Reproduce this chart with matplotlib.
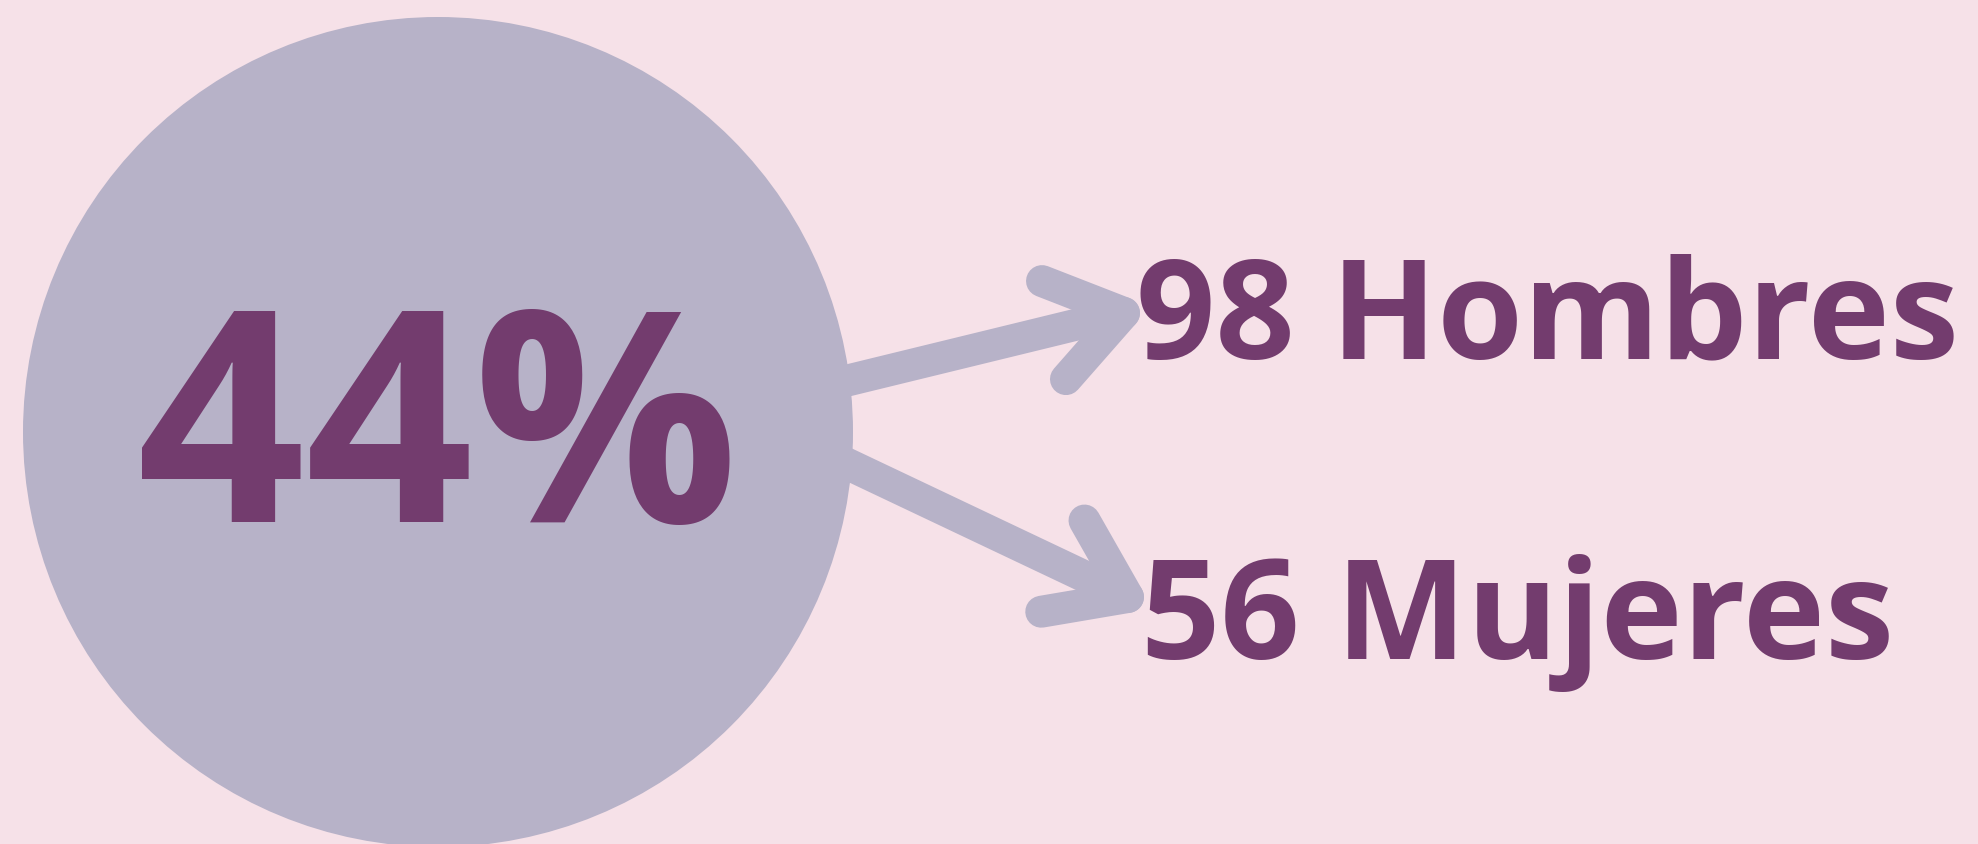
import numpy as np
import matplotlib
matplotlib.use("Agg")
import matplotlib.pyplot as plt
from matplotlib.patches import Circle

# ---- data ----
percent_value = 44
group_counts = [98, 56]
group_labels = ["Hombres", "Mujeres"]

# ---- style ----
BG = "#f6e1e8"
CIRCLE = "#b7b2c8"
TEXT = "#733c6e"
FONT = "Open Sans"

W, H = 1978, 844
fig = plt.figure(figsize=(W / 100, H / 100), dpi=100, facecolor=BG)
ax = fig.add_axes([0, 0, 1, 1])
ax.set_xlim(0, W)
ax.set_ylim(H, 0)
ax.set_aspect("equal")
ax.axis("off")
ax.set_facecolor(BG)

# big circle
cx, cy, r = 438, 432, 415
ax.add_patch(Circle((cx, cy), r, facecolor=CIRCLE, edgecolor="none", zorder=1))

# percentage
ax.text(137, 522, f"{percent_value}%", fontsize=212, fontfamily=FONT,
        fontweight="bold", color=TEXT, ha="left", va="baseline", zorder=3)

# arrows
lw = 23
arrow_specs = [((780, 397), (1124, 313)), ((780, 432), (1128, 597))]
head_len = 88
head_ang = np.deg2rad(35)
for (x0, y0), (x1, y1) in arrow_specs:
    ax.plot([x0, x1], [y0, y1], color=CIRCLE, lw=lw, solid_capstyle="round",
            solid_joinstyle="round", zorder=2)
    back = np.arctan2(y0 - y1, x0 - x1)
    pts = []
    for s in (+1, -1):
        a = back + s * head_ang
        pts.append((x1 + head_len * np.cos(a), y1 + head_len * np.sin(a)))
    ax.plot([pts[0][0], x1, pts[1][0]], [pts[0][1], y1, pts[1][1]],
            color=CIRCLE, lw=lw, solid_capstyle="round",
            solid_joinstyle="round", zorder=2)

# group labels
label_pos = [(1136, 358), (1141, 659)]
for (x, y), n, lab in zip(label_pos, group_counts, group_labels):
    ax.text(x, y, f"{n} {lab}", fontsize=100, fontfamily=FONT,
            fontweight="bold", color=TEXT, ha="left", va="baseline", zorder=3)

fig.savefig("out.png", dpi=100, facecolor=BG)
